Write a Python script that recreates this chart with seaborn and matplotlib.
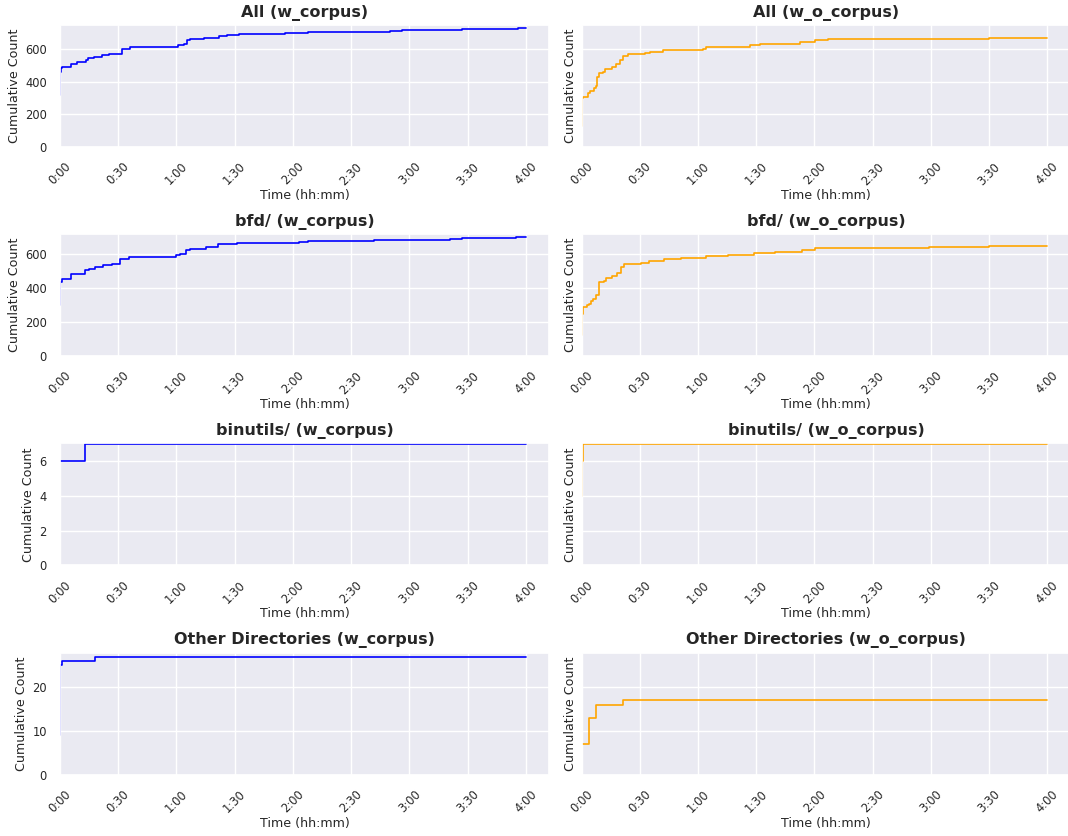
import matplotlib
matplotlib.use("Agg")
import matplotlib.pyplot as plt
import seaborn as sns
import pandas as pd

# ---------------- data (time in minutes, cumulative counts) ----------------
all_w_t = [0, 0.1, 0.3, 0.9, 5.5, 8.6, 13.3, 14.6, 17.6, 21.5, 25, 31.8, 36, 61, 63.7,
           65.4, 67, 74, 81.7, 86, 92, 116, 128, 138, 170, 176, 180, 207, 236, 240]
all_w_v = [315, 460, 480, 490, 510, 517, 532, 542, 553, 562, 570, 600, 612, 622, 632,
           655, 662, 668, 680, 684, 690, 695, 700, 705, 708, 712, 715, 720, 725, 725]

all_wo_t = [0, 0.1, 0.35, 0.9, 2.6, 3.4, 4.6, 6.4, 7.4, 8.1, 9.1, 11.2, 12, 15.5, 18, 19.7,
            21.5, 24, 30, 32.6, 35.2, 42, 49, 62.7, 64, 80, 86.7, 92, 112.7, 120.4, 127,
            151.5, 181, 210, 223, 240]
all_wo_v = [130, 262, 299, 305, 307, 328, 344, 360, 375, 426, 453, 457, 477, 487, 508, 532,
            559, 567, 571, 575, 582, 590, 594, 598, 610, 614, 621, 631, 639, 651, 657,
            659, 663, 665, 667, 667]

bfd_w_t = [0, 0.1, 0.9, 5.5, 13, 15, 18, 22, 27, 31, 35.5, 60, 62, 65, 67, 75, 81.6, 91,
           100, 123, 128, 162, 171, 201, 207, 235, 240]
bfd_w_v = [301, 434, 454, 479, 502, 512, 522, 532, 541, 567, 581, 590, 600, 624, 630, 639,
           655, 661, 665, 669, 675, 678, 682, 686, 690, 696, 696]

bfd_wo_t = [0, 0.1, 0.9, 2.9, 3.8, 4.7, 6, 7.3, 9, 11.6, 12.4, 15.9, 18.5, 20.2, 22, 30.6,
            35, 42.7, 51.3, 64.3, 75.5, 89, 99.7, 113.5, 120.4, 127, 179, 210, 224, 240]
bfd_wo_v = [121, 248, 287, 297, 307, 323, 336, 356, 434, 440, 459, 467, 487, 522, 538, 545,
            557, 567, 575, 586, 592, 604, 612, 622, 631, 635, 639, 643, 647, 647]

bin_w_t = [0, 13, 240]
bin_w_v = [6, 7, 7]

bin_wo_t = [0, 0.1, 0.35, 0.7, 240]
bin_wo_v = [4, 5, 6, 7, 7]

oth_w_t = [0, 0.05, 0.2, 1.1, 17.9, 240]
oth_w_v = [9, 19, 25, 26, 27, 27]

oth_wo_t = [0, 4, 7.3, 21.6, 240]
oth_wo_v = [7, 13, 16, 17, 17]

row_names = ["All", "bfd/", "binutils/", "Other Directories"]
col_names = ["w_corpus", "w_o_corpus"]
col_colors = ["blue", "orange"]
series = [
    [(all_w_t, all_w_v), (all_wo_t, all_wo_v)],
    [(bfd_w_t, bfd_w_v), (bfd_wo_t, bfd_wo_v)],
    [(bin_w_t, bin_w_v), (bin_wo_t, bin_wo_v)],
    [(oth_w_t, oth_w_v), (oth_wo_t, oth_wo_v)],
]
tick_minutes = [0, 30, 60, 90, 120, 150, 180, 210, 240]
tick_labels = ["0:00", "0:30", "1:00", "1:30", "2:00", "2:30", "3:00", "3:30", "4:00"]

# ---------------- style & layout ----------------
sns.set_theme(style="darkgrid")
plt.rcParams["font.family"] = ["DejaVu Sans"]

W, H = 1068, 836
fig = plt.figure(figsize=(W / 100, H / 100), dpi=100)

col_x = [60, 581.5]
ax_w = 489
row_top = [25, 234, 443.3, 652.7]
ax_h = 122

for r in range(4):
    left_ax = None
    for c in range(2):
        ax = fig.add_axes([col_x[c] / W, 1 - (row_top[r] + ax_h) / H, ax_w / W, ax_h / H])
        t, v = series[r][c]
        df = pd.DataFrame({"t": t, "v": v})
        sns.lineplot(data=df, x="t", y="v", ax=ax, color=col_colors[c],
                     drawstyle="steps-post", linewidth=1.2)
        ax.set_xlim(0, 252)
        ax.set_xticks(tick_minutes)
        ax.set_xticklabels(tick_labels, rotation=45, fontsize=8.3)
        ax.set_xlabel("Time (hh:mm)", fontsize=9.1, labelpad=1)
        ax.set_ylabel("Cumulative Count", fontsize=9.1, labelpad=3)
        ax.set_title(f"{row_names[r]} ({col_names[c]})", fontsize=11.5, fontweight="bold")
        ax.tick_params(axis="y", labelsize=8.3)
        if c == 0:
            ax.set_ylim(bottom=0)
            left_ax = ax
        else:
            ax.set_yticks(left_ax.get_yticks())
            ax.set_ylim(left_ax.get_ylim())
            ax.tick_params(axis="y", labelleft=False)

fig.savefig("out.png", dpi=100)
